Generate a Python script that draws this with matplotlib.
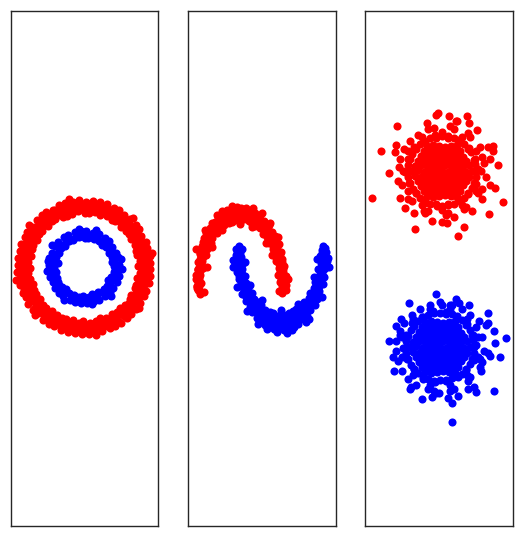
import numpy as np
import matplotlib
matplotlib.use("Agg")
import matplotlib.pyplot as plt

# ---------------- data (x, y) ----------------
# Panel 1: concentric circles
circle_outer_red = [
    (54,1),(56,6),(53,12),(52,16),(51,22),(47,28),(45,33),(42,36),(37,40),(31,46),(28,47),(23,51),(16,52),(11,55),(5,54),
    (1,54),(-6,56),(-12,53),(-17,51),(-21,50),(-29,48),(-32,46),(-36,41),(-42,36),(-45,33),(-47,27),(-51,22),(-52,18),(-53,11),(-56,5),
    (-54,-1),(-56,-6),(-54,-12),(-51,-17),(-50,-23),(-48,-27),(-44,-32),(-41,-38),(-38,-41),(-32,-44),(-27,-48),(-22,-51),(-18,-52),(-11,-53),(-5,-56),
    (-1,-54),(6,-56),(12,-54),(16,-51),(22,-51),(28,-47),(33,-45),(36,-41),(41,-38),(46,-32),(47,-28),(51,-21),(52,-18),(53,-11),(56,-6),
    (61,2),(59,8),(60,14),(56,21),(55,28),(51,31),(47,37),(44,43),(40,46),(33,50),(29,54),(22,56),(17,59),(10,59),(4,61),
    (-2,61),(-9,60),(-15,58),(-22,57),(-27,55),(-31,51),(-38,48),(-42,43),(-46,40),(-51,34),(-53,29),(-55,22),(-59,17),(-60,10),(-61,4),
    (-61,-2),(-59,-9),(-59,-14),(-57,-22),(-55,-27),(-50,-32),(-48,-38),(-43,-42),(-40,-46),(-34,-51),(-28,-54),(-22,-56),(-17,-59),(-11,-61),(-4,-60),
    (2,-61),(9,-60),(14,-59),(21,-58),(28,-54),(32,-52),(37,-47),(43,-44),(46,-40),(51,-34),(53,-29),(56,-22),(59,-17),(60,-10),(61,-4),
    (66,4),(66,11),(63,19),(62,25),(57,31),(55,38),(52,42),(46,48),(40,52),(35,57),(30,59),(23,63),(16,65),(9,66),(2,65),
    (-5,67),(-11,65),(-19,64),(-25,62),(-31,57),(-38,55),(-42,52),(-47,47),(-52,40),(-57,35),(-59,30),(-63,23),(-64,16),(-66,9),(-66,2),
    (-67,-5),(-65,-12),(-64,-18),(-61,-26),(-58,-30),(-56,-37),(-51,-43),(-46,-46),(-41,-53),(-35,-57),(-30,-59),(-23,-63),(-16,-65),(-9,-66),(-2,-67),
    (5,-67),(11,-66),(18,-64),(26,-61),(31,-59),(37,-56),(43,-51),(47,-47),(52,-42),(56,-36),(60,-29),(62,-24),(65,-16),(66,-9),(66,-2),
    (58,3),(57,9),(56,15),(54,21),(52,26),(49,32),(45,36),(41,41),(36,45),(32,49),(26,52),(21,54),(15,56),(9,57),(3,58),
    (-3,58),(-9,57),(-15,56),(-21,54),(-26,52),(-32,49),(-36,45),(-41,41),(-45,36),(-49,32),(-52,26),(-54,21),(-56,15),(-57,9),(-58,3),
    (-58,-3),(-57,-9),(-56,-15),(-54,-21),(-52,-26),(-49,-32),(-45,-36),(-41,-41),(-36,-45),(-32,-49),(-26,-52),(-21,-54),(-15,-56),(-9,-57),(-3,-58),
    (3,-58),(9,-57),(15,-56),(21,-54),(26,-52),(32,-49),(36,-45),(41,-41),(45,-36),(49,-32),(52,-26),(54,-21),(56,-15),(57,-9),(58,-3),
    (63,3),(62,10),(62,17),(59,23),(56,29),(53,35),(49,40),(45,44),(40,49),(35,53),(29,56),(23,60),(17,61),(10,62),(3,64),
    (-3,63),(-10,63),(-17,61),(-23,59),(-29,57),(-34,53),(-40,49),(-44,45),(-49,40),(-54,34),(-56,29),(-59,23),(-62,17),(-62,10),(-63,3),
    (-63,-3),(-62,-10),(-61,-17),(-60,-23),(-56,-29),(-53,-34),(-49,-41),(-45,-44),(-40,-49),(-34,-53),(-29,-57),(-23,-59),(-17,-62),(-10,-62),(-3,-63),
    (3,-63),(10,-63),(17,-61),(23,-59),(29,-56),(34,-54),(40,-49),(44,-45),(49,-40),(53,-34),(57,-29),(59,-23),(61,-17),(63,-10),(63,-3),
    (68,14),(-15,68),(-68,-13),(12,-68),(49,49),(-49,-48),(-55,42),(55,-41),
]
circle_inner_blue = [
    (30,1),(28,5),(28,10),(25,14),(22,20),(18,22),(15,26),(10,28),(4,29),
    (35,2),(34,10),(32,14),(28,20),(25,26),(21,29),(15,33),(9,34),(2,36),
    (1,29),(-5,30),(-11,27),(-15,26),(-19,21),(-23,19),(-25,14),(-28,10),(-29,4),
    (-3,36),(-9,35),(-16,32),(-20,30),(-26,25),(-29,21),(-32,14),(-35,9),(-35,2),
    (-30,-1),(-28,-5),(-27,-11),(-26,-15),(-22,-20),(-18,-22),(-15,-26),(-10,-28),(-5,-30),
    (-36,-3),(-34,-10),(-31,-15),(-29,-21),(-25,-26),(-21,-29),(-14,-33),(-9,-35),(-3,-36),
    (-1,-29),(5,-30),(10,-28),(14,-25),(20,-22),(23,-19),(26,-15),(27,-10),(30,-5),
    (3,-36),(10,-34),(15,-33),(21,-29),(26,-25),(29,-21),(33,-15),(35,-9),(34,-3),
    (31,3),(30,8),(28,13),(25,18),(22,22),(18,25),(13,28),(8,30),(3,31),
    (-3,31),(-8,30),(-13,28),(-18,25),(-22,22),(-25,18),(-28,13),(-30,8),(-31,3),
    (-31,-3),(-30,-8),(-28,-13),(-25,-18),(-22,-22),(-18,-25),(-13,-28),(-8,-30),(-3,-31),
    (3,-31),(8,-30),(13,-28),(18,-25),(22,-22),(25,-18),(28,-13),(30,-8),(31,-3),
    (-37,-4),(-36,6),(37,8),(38,-2),(-5,38),(12,37),(-20,-33),(8,-37),(27,-29),(-32,22),(-26,4),(24,-13),(8,-27),
]

# Panel 2: two interleaving moons
moon_upper_red = [
    (17,-24),(18,-15),(16,-8),(17,-1),(14,6),(13,11),(11,18),(7,24),(5,30),(1,33),(-2,39),(-7,41),(-10,43),(-13,46),(-18,48),(-22,46),
    (-27,47),(-30,45),(-33,44),(-38,42),(-43,38),(-45,34),(-50,29),(-51,24),(-55,18),(-56,12),(-60,6),(-59,-1),(-62,-8),(-61,-16),(-63,-23),
    (21,-19),(20,-12),(21,-5),(18,4),(17,10),(14,17),(12,25),(9,29),(6,36),(3,40),(-2,45),(-6,47),(-11,50),(-15,53),(-19,52),
    (-24,54),(-28,52),(-33,51),(-37,49),(-41,45),(-44,41),(-49,38),(-52,31),(-55,27),(-57,20),(-61,13),(-61,6),(-64,-2),(-63,-10),(-65,-19),
    (24,-18),(24,-9),(22,1),(20,8),(19,15),(17,23),(13,31),(10,35),(7,42),(2,46),(-2,52),(-7,54),(-11,56),(-16,59),(-21,59),
    (-25,60),(-30,57),(-35,57),(-40,53),(-44,50),(-47,45),(-52,39),(-56,34),(-58,29),(-60,21),(-62,14),(-64,5),(-64,-3),(-66,-12),(-65,-21),
    (22,-22),(21,-15),(20,-6),(19,1),(18,8),(16,15),(13,22),(10,28),(7,34),(4,39),(0,44),(-4,48),(-9,50),(-13,52),(-17,54),(-22,54),
    (-27,53),(-31,52),(-35,50),(-40,47),(-44,43),(-48,39),(-51,34),(-54,28),(-57,22),(-59,15),(-62,8),(-62,1),(-64,-7),(-64,-15),(-64,-23),
    (20,-19),(19,-12),(18,-4),(17,3),(15,10),(13,17),(10,23),(7,29),(4,34),(1,38),(-3,42),(-7,45),(-11,48),(-16,49),(-20,50),
    (-24,50),(-29,49),(-33,48),(-37,45),(-41,42),(-45,38),(-48,34),(-51,29),(-54,23),(-57,17),(-59,10),(-61,3),(-62,-4),(-63,-12),(-63,-19),
    (22,-19),(22,-11),(21,-2),(20,5),(18,13),(15,20),(13,27),(9,33),(6,38),(2,43),(-2,47),(-6,51),(-10,53),(-15,55),(-20,56),
    (-24,56),(-29,55),(-33,53),(-38,51),(-42,47),(-46,43),(-50,38),(-53,33),(-57,27),(-59,20),(-62,13),(-63,5),(-64,-2),(-65,-11),(-65,-19),
    (-62,-27),(-58,-25),(20,-26),(24,-23),(-50,44),(-59,25),(-9,59),(0,54),(-40,56),
    (-30,61),(-45,52),(-57,37),(-66,18),(8,44),(16,30),(-66,-8),(26,-12),
    (-22,43),(-40,37),(-50,20),(-55,0),(10,12),(4,24),(-10,40),
]
moon_lower_blue = [
    (-20,18),(-21,10),(-19,4),(-20,-2),(-17,-9),(-16,-16),(-14,-21),(-10,-26),(-8,-32),(-4,-35),(-1,-38),(3,-43),(8,-45),(11,-46),(15,-49),(19,-47),
    (24,-48),(27,-46),(31,-44),(34,-42),(39,-40),(42,-35),(47,-31),(48,-26),(52,-21),(53,-15),(56,-10),(56,-2),(59,4),(58,11),(60,17),
    (-23,15),(-25,8),(-22,0),(-22,-7),(-19,-14),(-18,-22),(-16,-27),(-12,-32),(-9,-39),(-6,-42),(-1,-47),(4,-50),(7,-53),(12,-54),(16,-56),
    (20,-54),(25,-55),(30,-53),(33,-51),(38,-49),(42,-45),(46,-39),(48,-34),(53,-29),(54,-23),(58,-16),(58,-9),(61,-2),(60,5),(62,14),
    (-26,12),(-27,4),(-25,-5),(-23,-12),(-22,-19),(-20,-27),(-16,-34),(-12,-40),(-10,-45),(-5,-51),(0,-54),(3,-58),(8,-59),(12,-62),(17,-61),
    (22,-63),(28,-61),(32,-60),(36,-57),(41,-52),(45,-49),(48,-43),(53,-38),(55,-32),(57,-24),(61,-17),(62,-10),(63,-1),(65,6),(64,15),
    (-24,18),(-24,11),(-23,3),(-22,-4),(-21,-12),(-19,-19),(-16,-24),(-13,-31),(-10,-37),(-7,-42),(-3,-46),(1,-50),(6,-52),(10,-55),(14,-56),(19,-56),
    (24,-56),(28,-54),(32,-52),(37,-50),(41,-46),(45,-42),(48,-37),(51,-31),(54,-25),(57,-19),(59,-12),(60,-5),(61,3),(62,10),(62,18),
    (-22,14),(-22,7),(-21,0),(-20,-7),(-18,-14),(-16,-20),(-13,-26),(-10,-31),(-7,-36),(-4,-40),(0,-44),(4,-47),(8,-49),(13,-51),(17,-51),
    (21,-51),(26,-51),(30,-49),(34,-47),(38,-44),(42,-40),(45,-36),(48,-31),(51,-26),(54,-20),(56,-14),(58,-7),(59,0),(60,7),(60,14),
    (-25,14),(-25,6),(-24,-2),(-23,-9),(-21,-17),(-18,-24),(-16,-30),(-12,-36),(-9,-41),(-5,-46),(-1,-50),(3,-54),(8,-56),(12,-58),(17,-58),
    (21,-58),(26,-58),(30,-56),(35,-54),(39,-50),(43,-46),(47,-41),(50,-36),(54,-30),(56,-24),(59,-17),(61,-9),(62,-2),(63,6),(63,14),
    (-23,21),(-26,18),(61,21),(63,19),(-29,7),(66,9),(15,-65),(30,-63),(-4,-57),(47,-52),
    (-29,0),(-25,-20),(-15,-44),(5,-62),(25,-66),(44,-55),(60,-30),(67,0),
    (-17,5),(-12,-18),(0,-33),(19,-43),(36,-37),(52,-10),(55,8),
]

# Panel 3: two gaussian blobs
blob_upper_red = [
    (-27,96),(-21,97),(-15,95),(-9,96),(-3,97),(3,96),(9,95),(15,96),(21,97),(27,95),(33,96),
    (-24,101),(-18,102),(-12,101),(-6,100),(0,101),(6,102),(12,101),(18,100),(24,101),(30,102),
    (-24,91),(-18,90),(-12,91),(-6,92),(0,91),(6,90),(12,91),(18,92),(24,91),(30,90),
    (-21,106),(-15,107),(-9,106),(-3,105),(3,106),(9,107),(15,106),(21,105),(27,106),
    (-21,86),(-15,85),(-9,86),(-3,87),(3,86),(9,85),(15,86),(21,87),(27,86),
    (-18,111),(-12,112),(-6,111),(0,110),(6,111),(12,112),(18,111),(24,110),
    (-18,81),(-12,80),(-6,81),(0,82),(6,81),(12,80),(18,81),(24,82),
    (-15,116),(-9,117),(-3,116),(3,115),(9,116),(15,117),(21,116),
    (-15,76),(-9,75),(-3,76),(3,77),(9,76),(15,75),(21,76),
    (-12,121),(-6,122),(0,121),(6,120),(12,121),(18,122),
    (-12,71),(-6,70),(0,71),(6,72),(12,71),(18,70),
    (37,96),(36,103),(35,107),(32,115),(29,118),(25,123),(20,125),(15,129),(9,129),
    (3,131),(-3,129),(-9,129),(-14,125),(-19,123),(-23,118),(-27,113),(-29,108),(-31,102),
    (-31,96),(-31,90),(-29,84),(-26,78),(-23,74),(-19,69),(-14,67),(-9,63),(-3,63),
    (3,61),(9,63),(15,63),(20,67),(25,69),(29,74),(33,79),(35,84),(37,90),
    (39,98),(36,108),(30,119),(20,127),(9,131),(-4,132),(-15,126),(-25,120),(-31,108),
    (-34,95),(-30,84),(-23,74),(-14,64),(-2,61),(9,62),(21,66),(29,73),(37,83),
    (42,96),(37,116),(23,130),(3,135),(-17,130),(-31,116),(-36,96),(-31,76),(-17,62),(3,57),(23,62),(37,76),
    (45,104),(41,120),(31,130),(15,138),(-5,139),(-21,132),(-35,118),(-40,100),(-37,82),(-27,66),(-11,56),(9,54),(27,60),(43,78),
    (43,110),(47,90),(39,74),(25,58),(7,52),(-15,56),(-31,68),(-41,86),(-39,108),(-29,126),
    (-11,138),(11,141),(29,134),(49,120),(-43,122),(33,56),(-25,54),(51,82),(-7,46),(17,146),
    (-67,69),(-58,116),(-42,141),(-50,94),(-3,152),(-1,154),(10,151),(28,151),(30,144),(38,137),
    (54,121),(54,116),(59,102),(56,79),(64,65),(50,53),(25,40),(19,31),(3,45),(8,44),
    (-24,38),(-34,59),(-39,69),(-44,115),(-12,144),(18,146),(15,50),(-14,54),(43,68),(51,108),
]
blob_lower_blue = [
    (-29,-80),(-23,-79),(-17,-81),(-11,-80),(-5,-79),(1,-80),(7,-81),(13,-80),(19,-79),(25,-81),(31,-80),
    (-26,-75),(-20,-74),(-14,-75),(-8,-76),(-2,-75),(4,-74),(10,-75),(16,-76),(22,-75),(28,-74),
    (-26,-85),(-20,-86),(-14,-85),(-8,-84),(-2,-85),(4,-86),(10,-85),(16,-84),(22,-85),(28,-86),
    (-23,-70),(-17,-69),(-11,-70),(-5,-71),(1,-70),(7,-69),(13,-70),(19,-71),(25,-70),
    (-23,-90),(-17,-91),(-11,-90),(-5,-89),(1,-90),(7,-91),(13,-90),(19,-89),(25,-90),
    (-20,-65),(-14,-64),(-8,-65),(-2,-66),(4,-65),(10,-64),(16,-65),(22,-66),
    (-20,-95),(-14,-96),(-8,-95),(-2,-94),(4,-95),(10,-96),(16,-95),(22,-94),
    (-17,-60),(-11,-59),(-5,-60),(1,-61),(7,-60),(13,-59),(19,-60),
    (-17,-100),(-11,-101),(-5,-100),(1,-99),(7,-100),(13,-101),(19,-100),
    (-14,-55),(-8,-54),(-2,-55),(4,-56),(10,-55),(16,-54),
    (-14,-105),(-8,-106),(-2,-105),(4,-104),(10,-105),(16,-106),
    (35,-80),(34,-73),(33,-68),(31,-63),(27,-58),(23,-53),(18,-51),(13,-47),(7,-47),
    (1,-46),(-5,-46),(-11,-48),(-16,-50),(-21,-54),(-25,-59),(-28,-63),(-31,-69),(-33,-74),
    (-33,-80),(-33,-86),(-31,-92),(-28,-98),(-25,-102),(-21,-106),(-16,-110),(-11,-112),(-5,-114),
    (1,-113),(7,-113),(13,-111),(18,-109),(23,-107),(27,-102),(31,-97),(33,-92),(35,-86),
    (37,-78),(34,-68),(28,-57),(18,-49),(7,-45),(-6,-44),(-17,-50),(-27,-56),(-33,-68),
    (-36,-81),(-32,-92),(-25,-102),(-16,-112),(-4,-115),(7,-114),(19,-110),(27,-103),(35,-93),
    (39,-70),(28,-52),(11,-42),(-9,-42),(-26,-52),(-37,-70),(-37,-90),(-26,-108),(-9,-118),(11,-118),(28,-108),(39,-90),
    (45,-84),(37,-60),(23,-42),(3,-38),(-19,-42),(-35,-56),(-43,-74),(-41,-94),(-31,-112),(-11,-122),(11,-124),(29,-114),(41,-100),(-3,-126),
    (43,-70),(41,-92),(31,-110),(15,-122),(-5,-124),(-23,-118),(-37,-104),(-43,-84),(-39,-64),(-27,-48),
    (-9,-38),(13,-38),(31,-48),(47,-58),(-45,-104),(35,-120),(-29,-122),(49,-86),(-7,-130),(17,-32),
    (-3,-27),(-30,-36),(1,-35),(11,-38),(20,-36),(30,-38),(49,-46),(40,-54),(49,-56),(55,-64),
    (67,-71),(56,-76),(61,-90),(51,-89),(43,-95),(42,-104),(37,-125),(55,-124),(19,-129),(9,-131),
    (13,-136),(13,-155),(-17,-132),(-28,-120),(-46,-90),(-50,-74),(-43,-59),(-38,-52),(-39,-68),(0,-126),(29,-122),
]

panels = [
    # (axes rect in figure fraction, xlim, ylim, [(points, colour), ...])
    ([11/523, 11/537, 147/523, 515.3/537], (-73, 74), (-258.5, 256.8),
     [(circle_outer_red, "#ff0000"), (circle_inner_blue, "#0000ff")]),
    ([188/523, 11/537, 148/523, 515.3/537], (-74, 74), (-259, 256.3),
     [(moon_upper_red, "#ff0000"), (moon_lower_blue, "#0000ff")]),
    ([365/523, 11/537, 148/523, 515.3/537], (-74, 74), (-259, 256.3),
     [(blob_upper_red, "#ff0000"), (blob_lower_blue, "#0000ff")]),
]

fig = plt.figure(figsize=(5.23, 5.37), dpi=100)
fig.patch.set_facecolor("white")
for rect, xl, yl, groups in panels:
    ax = fig.add_axes(rect)
    for pts, col in groups:
        arr = np.array(pts, dtype=float)
        ax.scatter(arr[:, 0], arr[:, 1], s=34, c=col, linewidths=0)
    ax.set_xlim(*xl)
    ax.set_ylim(*yl)
    ax.set_xticks([])
    ax.set_yticks([])
    for sp in ax.spines.values():
        sp.set_color("#262626")
        sp.set_linewidth(1.0)

fig.savefig("out.png", dpi=100)
